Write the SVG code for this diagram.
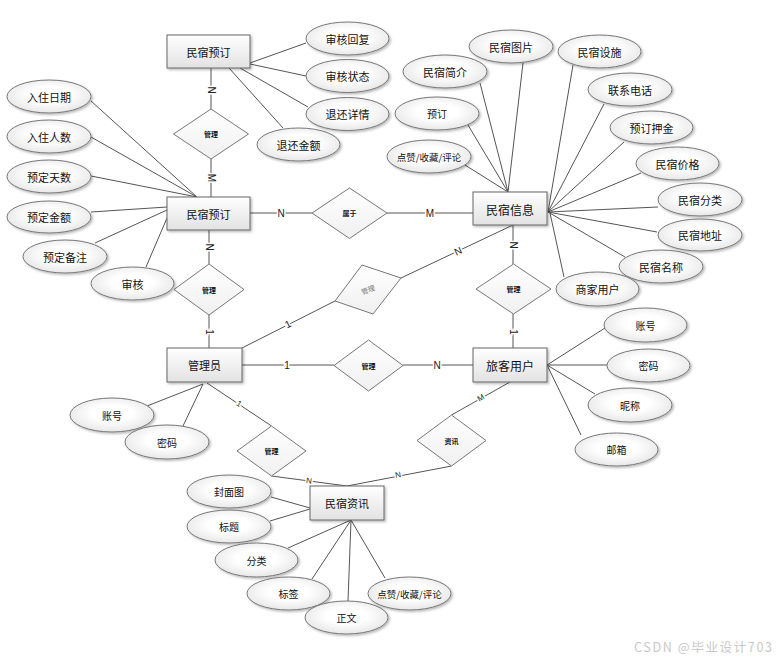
<svg xmlns="http://www.w3.org/2000/svg" width="783" height="661" viewBox="0 0 783 661">
<defs>
<linearGradient id="gE" x1="0" y1="0" x2="0" y2="1"><stop offset="0" stop-color="#ffffff"/><stop offset="1" stop-color="#e2e2e2"/></linearGradient>
<radialGradient id="gA" cx="0.5" cy="0.45" r="0.6"><stop offset="0.4" stop-color="#ffffff"/><stop offset="1" stop-color="#e4e4e4"/></radialGradient>
<linearGradient id="gD" x1="0" y1="0" x2="0" y2="1"><stop offset="0" stop-color="#ffffff"/><stop offset="1" stop-color="#f0f0f0"/></linearGradient>
<filter id="sh" x="-20%" y="-20%" width="150%" height="160%"><feDropShadow dx="1.5" dy="1.5" stdDeviation="1.2" flood-color="#000" flood-opacity="0.28"/></filter>
<style>
.ent rect{fill:url(#gE);stroke:#666;stroke-width:1;filter:url(#sh)}
.att ellipse{fill:url(#gA);stroke:#777;stroke-width:1;filter:url(#sh)}
.rel polygon{fill:url(#gD);stroke:#777;stroke-width:1}
text{font-family:"Noto Sans CJK SC","Liberation Sans",sans-serif;text-anchor:middle;dominant-baseline:central;fill:#111}
.ent text{font-size:11px}
.att text{font-size:11px}
.rel text{font-size:7px;font-weight:bold}
#conn line{stroke:#555;stroke-width:1}
.card{font-family:"Liberation Sans",Arial,sans-serif;font-size:10px;stroke:#fff;stroke-width:3;paint-order:stroke;fill:#222}
.wm{font-size:12.5px;fill:#c8c8c8;text-anchor:start}
</style>
</defs>
<rect x="0" y="0" width="783" height="661" fill="#fff"/>
<g id="conn">
<line x1="250" y1="63" x2="306" y2="43"/>
<line x1="250" y1="64" x2="306" y2="76"/>
<line x1="240" y1="68" x2="308" y2="107"/>
<line x1="229" y1="68" x2="283" y2="128"/>
<line x1="91" y1="101" x2="197" y2="197"/>
<line x1="91" y1="137" x2="197" y2="197"/>
<line x1="91" y1="176" x2="197" y2="197"/>
<line x1="91" y1="212" x2="167" y2="207"/>
<line x1="95" y1="243" x2="167" y2="210"/>
<line x1="146" y1="267" x2="167" y2="218"/>
<line x1="211" y1="68" x2="211" y2="109"/>
<line x1="211" y1="159" x2="211" y2="197"/>
<line x1="209" y1="230" x2="209" y2="264"/>
<line x1="209" y1="315" x2="209" y2="348"/>
<line x1="250" y1="213" x2="312" y2="213"/>
<line x1="387" y1="213" x2="473" y2="213"/>
<line x1="513" y1="225" x2="401" y2="278"/>
<line x1="335" y1="301" x2="242" y2="348"/>
<line x1="513" y1="225" x2="513" y2="264"/>
<line x1="513" y1="314" x2="513" y2="348"/>
<line x1="242" y1="365" x2="334" y2="365"/>
<line x1="403" y1="365" x2="473" y2="365"/>
<line x1="207" y1="383" x2="271.5" y2="426"/>
<line x1="271.5" y1="476" x2="347" y2="486"/>
<line x1="510" y1="382" x2="451.5" y2="415"/>
<line x1="451.5" y1="466" x2="347" y2="486"/>
<line x1="480" y1="83" x2="508" y2="192"/>
<line x1="523" y1="63" x2="508" y2="192"/>
<line x1="468" y1="125" x2="508" y2="192"/>
<line x1="465" y1="165" x2="508" y2="192"/>
<line x1="573" y1="65" x2="548" y2="212"/>
<line x1="604" y1="104" x2="548" y2="212"/>
<line x1="624" y1="142" x2="548" y2="212"/>
<line x1="641" y1="173" x2="548" y2="212"/>
<line x1="658" y1="207" x2="548" y2="212"/>
<line x1="657" y1="232" x2="548" y2="212"/>
<line x1="625" y1="257" x2="548" y2="212"/>
<line x1="564" y1="277" x2="550" y2="213"/>
<line x1="547" y1="365" x2="605" y2="328"/>
<line x1="547" y1="365" x2="607" y2="365"/>
<line x1="547" y1="365" x2="595" y2="394"/>
<line x1="547" y1="365" x2="581" y2="435"/>
<line x1="203" y1="384" x2="147" y2="406"/>
<line x1="203" y1="384" x2="183" y2="426"/>
<line x1="271" y1="497" x2="310" y2="508"/>
<line x1="270" y1="521" x2="310" y2="509"/>
<line x1="351" y1="520" x2="288" y2="548"/>
<line x1="351" y1="520" x2="312" y2="579"/>
<line x1="351" y1="520" x2="348" y2="601"/>
<line x1="351" y1="520" x2="385" y2="578"/>
<text class="card" transform="translate(211,90) rotate(90)">N</text>
<text class="card" transform="translate(211,178) rotate(90)">M</text>
<text class="card" transform="translate(209,247) rotate(90)">N</text>
<text class="card" transform="translate(209,332) rotate(90)">1</text>
<text class="card" transform="translate(281,213)">N</text>
<text class="card" transform="translate(430,213)">M</text>
<text class="card" transform="translate(458,251) rotate(-25)">N</text>
<text class="card" transform="translate(288,324) rotate(-27)">1</text>
<text class="card" transform="translate(513,245) rotate(90)">N</text>
<text class="card" transform="translate(513,332) rotate(90)">1</text>
<text class="card" transform="translate(287,365)">1</text>
<text class="card" transform="translate(437,365)">N</text>
<text class="card" style="font-size:8px" transform="translate(239,404) rotate(34)">1</text>
<text class="card" style="font-size:8px" transform="translate(309,481) rotate(8)">N</text>
<text class="card" style="font-size:8px" transform="translate(481,398) rotate(-30)">M</text>
<text class="card" style="font-size:8px" transform="translate(398,475) rotate(-11)">N</text>
</g>
<g id="e_yuding_top" class="ent"><rect x="167" y="35" width="83" height="33"/><text x="208.5" y="52">民宿预订</text></g>
<g id="e_yuding" class="ent"><rect x="167" y="197" width="83" height="33"/><text x="208.5" y="214">民宿预订</text></g>
<g id="e_xinxi" class="ent"><rect x="473" y="192" width="74" height="33"/><text x="510" y="209" style="font-size:12px">民宿信息</text></g>
<g id="e_admin" class="ent"><rect x="167" y="348" width="75" height="34"/><text x="204.5" y="365">管理员</text></g>
<g id="e_user" class="ent"><rect x="473" y="348" width="74" height="34"/><text x="510" y="365" style="font-size:12px">旅客用户</text></g>
<g id="e_zixun" class="ent"><rect x="310" y="486" width="74" height="34"/><text x="347" y="503">民宿资讯</text></g>
<g id="r1" class="rel"><polygon points="211,109 248.5,134 211,159 173.5,134"/><text x="211" y="134">管理</text></g>
<g id="r_shuyu" class="rel"><polygon points="349.5,188 387,213 349.5,238.5 312,213"/><text x="349.5" y="213">属于</text></g>
<g id="r2" class="rel"><polygon points="209,264 244,289.5 209,315 174,289.5"/><text x="209" y="289.5">管理</text></g>
<g id="r3" class="rel"><polygon points="362,265 401,278 373,314 335,301"/><text x="368" y="289.5" transform="rotate(-20 368 289.5)" style="fill:#777;font-weight:normal">管理</text></g>
<g id="r4" class="rel"><polygon points="513.5,264 551,289 513.5,314 476,289"/><text x="513.5" y="289">管理</text></g>
<g id="r5" class="rel"><polygon points="368.5,340 403,365.5 368.5,391 334,365.5"/><text x="368.5" y="365.5">管理</text></g>
<g id="r6" class="rel"><polygon points="271.5,426 306,451 271.5,476 237,451"/><text x="271.5" y="451">管理</text></g>
<g id="r7" class="rel"><polygon points="451.5,415 486,440.5 451.5,466 417,440.5"/><text x="451.5" y="440.5">资讯</text></g>
<g id="a_shhf" class="att"><ellipse cx="347.5" cy="38.5" rx="41.5" ry="16.5"/><text x="347.5" y="38.5">审核回复</text></g>
<g id="a_shzt" class="att"><ellipse cx="347.5" cy="76" rx="41.5" ry="16.5"/><text x="347.5" y="76">审核状态</text></g>
<g id="a_thxq" class="att"><ellipse cx="347.5" cy="114" rx="41.5" ry="16.5"/><text x="347.5" y="114">退还详情</text></g>
<g id="a_thje" class="att"><ellipse cx="298.5" cy="144.5" rx="41.5" ry="16.5"/><text x="298.5" y="144.5">退还金额</text></g>
<g id="a_rzrq" class="att"><ellipse cx="49" cy="96.5" rx="42" ry="16.5"/><text x="49" y="96.5">入住日期</text></g>
<g id="a_rzrs" class="att"><ellipse cx="49" cy="136.5" rx="42" ry="16.5"/><text x="49" y="136.5">入住人数</text></g>
<g id="a_ydts" class="att"><ellipse cx="49" cy="176.5" rx="42" ry="16.5"/><text x="49" y="176.5">预定天数</text></g>
<g id="a_ydje" class="att"><ellipse cx="49" cy="217" rx="42" ry="16"/><text x="49" y="217">预定金额</text></g>
<g id="a_ydbz" class="att"><ellipse cx="65" cy="256.5" rx="42" ry="16.5"/><text x="65" y="256.5">预定备注</text></g>
<g id="a_sh" class="att"><ellipse cx="132.5" cy="283.5" rx="41.5" ry="16.5"/><text x="132.5" y="283.5">审核</text></g>
<g id="a_mstp" class="att"><ellipse cx="511" cy="46.5" rx="42" ry="16.5"/><text x="511" y="46.5">民宿图片</text></g>
<g id="a_mssh" class="att"><ellipse cx="599.5" cy="51.5" rx="41.5" ry="16.5"/><text x="599.5" y="51.5">民宿设施</text></g>
<g id="a_msjj" class="att"><ellipse cx="445" cy="71.5" rx="42" ry="16.5"/><text x="445" y="71.5">民宿简介</text></g>
<g id="a_yd" class="att"><ellipse cx="437" cy="113.5" rx="42" ry="16.5"/><text x="437" y="113.5" style="font-size:10px">预订</text></g>
<g id="a_dz1" class="att"><ellipse cx="429" cy="156.5" rx="42" ry="16.5"/><text x="429" y="156.5" style="font-size:9.5px">点赞/收藏/评论</text></g>
<g id="a_lxdh" class="att"><ellipse cx="630" cy="89.5" rx="42" ry="16.5"/><text x="630" y="89.5">联系电话</text></g>
<g id="a_ydyj" class="att"><ellipse cx="651.5" cy="127.5" rx="41.5" ry="16.5"/><text x="651.5" y="127.5">预订押金</text></g>
<g id="a_msjg" class="att"><ellipse cx="677.5" cy="163.5" rx="41.5" ry="16.5"/><text x="677.5" y="163.5">民宿价格</text></g>
<g id="a_msfl" class="att"><ellipse cx="700" cy="199.5" rx="42" ry="16.5"/><text x="700" y="199.5">民宿分类</text></g>
<g id="a_msdz" class="att"><ellipse cx="700" cy="235" rx="42" ry="16"/><text x="700" y="235">民宿地址</text></g>
<g id="a_msmc" class="att"><ellipse cx="661" cy="266.5" rx="42" ry="16.5"/><text x="661" y="266.5">民宿名称</text></g>
<g id="a_sjyh" class="att"><ellipse cx="597.5" cy="289" rx="41.5" ry="17"/><text x="597.5" y="289">商家用户</text></g>
<g id="a_zh2" class="att"><ellipse cx="645.5" cy="325" rx="41.5" ry="17"/><text x="645.5" y="325" style="font-size:10px">账号</text></g>
<g id="a_mm2" class="att"><ellipse cx="648.5" cy="365.5" rx="41.5" ry="16.5"/><text x="648.5" y="365.5" style="font-size:10px">密码</text></g>
<g id="a_nc" class="att"><ellipse cx="630" cy="405" rx="42" ry="17"/><text x="630" y="405" style="font-size:10px">昵称</text></g>
<g id="a_yx" class="att"><ellipse cx="616.5" cy="449.5" rx="41.5" ry="16.5"/><text x="616.5" y="449.5" style="font-size:10px">邮箱</text></g>
<g id="a_zh1" class="att"><ellipse cx="112" cy="415" rx="42" ry="17"/><text x="112" y="415" style="font-size:10px">账号</text></g>
<g id="a_mm1" class="att"><ellipse cx="167" cy="442" rx="42" ry="17"/><text x="167" y="442" style="font-size:10px">密码</text></g>
<g id="a_fmt" class="att"><ellipse cx="229" cy="491.5" rx="42" ry="16.5"/><text x="229" y="491.5" style="font-size:10px">封面图</text></g>
<g id="a_bt" class="att"><ellipse cx="229" cy="526.5" rx="42" ry="16.5"/><text x="229" y="526.5" style="font-size:10px">标题</text></g>
<g id="a_fl" class="att"><ellipse cx="256.5" cy="560" rx="41.5" ry="17"/><text x="256.5" y="560" style="font-size:10px">分类</text></g>
<g id="a_bq" class="att"><ellipse cx="288.5" cy="593.5" rx="41.5" ry="16.5"/><text x="288.5" y="593.5" style="font-size:10px">标签</text></g>
<g id="a_zw" class="att"><ellipse cx="346.5" cy="617.5" rx="41.5" ry="16.5"/><text x="346.5" y="617.5" style="font-size:10px">正文</text></g>
<g id="a_dz2" class="att"><ellipse cx="409.5" cy="593.5" rx="41.5" ry="16.5"/><text x="409.5" y="593.5" style="font-size:9.5px">点赞/收藏/评论</text></g>
<text class="wm" x="634" y="646" textLength="138" lengthAdjust="spacing">CSDN @毕业设计703</text>
</svg>
